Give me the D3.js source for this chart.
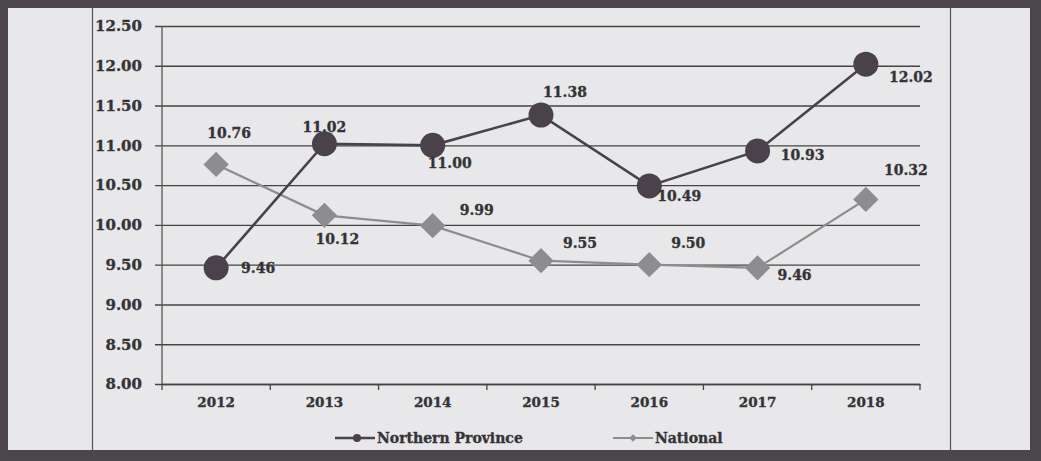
<!DOCTYPE html>
<html lang="en">
<head>
<meta charset="UTF-8">
<title>Northern Province vs National</title>
<script src="https://d3js.org/d3.v7.min.js"></script>
<style>
    body { margin: 0; background: #e8e8ea; overflow: hidden; }
    text { font-family: "DejaVu Serif", serif; font-weight: bold; fill: #343336; stroke: #343336; stroke-width: 0.35px; }
</style>
</head>
<body>
<div id="chart"></div>
<script>
// data
const years = ["2012", "2013", "2014", "2015", "2016", "2017", "2018"];
const northern = [9.46, 11.02, 11.00, 11.38, 10.49, 10.93, 12.02];
const national = [10.76, 10.12, 9.99, 9.55, 9.50, 9.46, 10.32];
const yTicks = [8, 8.5, 9, 9.5, 10, 10.5, 11, 11.5, 12, 12.5];

// where each value label sits relative to its point [dx, dy]
const northernLabelPos = [[42, 0], [0, -17], [17, 18], [24, -23], [30, 10], [45, 4], [45, 13]];
const nationalLabelPos = [[13, -31], [13, 24], [44, -16], [39, -18], [39, -22], [37, 7], [40, -29]];

const W = 1041, H = 461;
const svg = d3.select("#chart").append("svg")
    .attr("width", W).attr("height", H);

svg.append("rect").attr("width", W).attr("height", H).attr("fill", "#e8e8ea");

// scanned frame
const frame = "#4a4649";
svg.append("rect").attr("x", 0).attr("y", 0).attr("width", W).attr("height", 8).attr("fill", frame);
svg.append("rect").attr("x", 0).attr("y", 450).attr("width", W).attr("height", 11).attr("fill", frame);
svg.append("rect").attr("x", 0).attr("y", 0).attr("width", 8).attr("height", H).attr("fill", frame);
svg.append("rect").attr("x", 1030).attr("y", 0).attr("width", 11).attr("height", H).attr("fill", frame);
[92.5, 950.5].forEach(xv => {
    svg.append("line").attr("x1", xv).attr("x2", xv).attr("y1", 8).attr("y2", 450)
        .attr("stroke", "#555").attr("stroke-width", 1.2);
});

const x = d3.scaleBand().domain(years).range([162, 920]).padding(0);
const y = d3.scaleLinear().domain([8, 12.5]).range([384, 26]);
const cx = d => x(d) + x.bandwidth() / 2;

// gridlines + y labels
const yAxis = svg.append("g")
    .attr("transform", "translate(162,0)")
    .call(d3.axisLeft(y).tickValues(yTicks).tickFormat(d3.format(".2f"))
        .tickSize(-758).tickSizeOuter(0).tickPadding(20));
yAxis.select(".domain").remove();
yAxis.selectAll(".tick line").attr("x1", -7).attr("stroke", "#444").attr("stroke-width", 1.4);
yAxis.selectAll(".tick text").attr("font-size", 15).attr("fill", "#343336")
    .attr("font-family", "DejaVu Serif").attr("font-weight", "bold");
svg.append("line").attr("x1", 162).attr("x2", 162).attr("y1", 26).attr("y2", 384)
    .attr("stroke", "#555").attr("stroke-width", 1.3);

// x axis
const xAxis = svg.append("g")
    .attr("transform", "translate(0,384)")
    .call(d3.axisBottom(x).tickSize(0).tickPadding(13));
xAxis.select(".domain").attr("stroke", "#444").attr("stroke-width", 1.4);
xAxis.selectAll(".tick text").attr("font-size", 13.5).attr("fill", "#343336")
    .attr("font-family", "DejaVu Serif").attr("font-weight", "bold");
svg.append("g").selectAll("line")
    .data(years.map(d => x(d)).concat([920]))
    .enter().append("line")
    .attr("x1", d => d).attr("x2", d => d).attr("y1", 384).attr("y2", 390)
    .attr("stroke", "#444").attr("stroke-width", 1.3);

const npColor = "#4a424a", natColor = "#8d8d8f";
const line = d3.line().x((d, i) => cx(years[i])).y(d => y(d));

// National
svg.append("path").datum(national).attr("d", line)
    .attr("fill", "none").attr("stroke", natColor).attr("stroke-width", 2.2);
const diamond = d3.symbol().type(d3.symbolSquare).size(320);
svg.append("g").selectAll("path").data(national).enter().append("path")
    .attr("d", diamond)
    .attr("transform", (d, i) => `translate(${cx(years[i])},${y(d)}) rotate(45)`)
    .attr("fill", natColor);

// Northern Province
svg.append("path").datum(northern).attr("d", line)
    .attr("fill", "none").attr("stroke", npColor).attr("stroke-width", 2.6);
svg.append("g").selectAll("circle").data(northern).enter().append("circle")
    .attr("cx", (d, i) => cx(years[i])).attr("cy", d => y(d)).attr("r", 12.5)
    .attr("fill", npColor);

// value labels
function labels(vals, pos) {
    svg.append("g").selectAll("text").data(vals).enter().append("text")
        .attr("x", (d, i) => cx(years[i]) + pos[i][0])
        .attr("y", (d, i) => y(d) + pos[i][1])
        .attr("text-anchor", "middle").attr("dominant-baseline", "central")
        .attr("font-size", 14)
        .text(d => d.toFixed(2));
}
labels(northern, northernLabelPos);
labels(national, nationalLabelPos);

// legend
const legend = svg.append("g").attr("transform", "translate(0,438)");
const items = [
    { name: "Northern Province", color: npColor, x: 335, w: 2.6, mark: "circle" },
    { name: "National", color: natColor, x: 613, w: 2, mark: "diamond" }
];
items.forEach(it => {
    legend.append("line").attr("x1", it.x).attr("x2", it.x + 40).attr("y1", 0).attr("y2", 0)
        .attr("stroke", it.color).attr("stroke-width", it.w);
    if (it.mark === "circle") {
        legend.append("circle").attr("cx", it.x + 22).attr("cy", 0).attr("r", 4).attr("fill", it.color);
    } else {
        legend.append("path").attr("d", d3.symbol().type(d3.symbolSquare).size(30))
            .attr("transform", `translate(${it.x + 20},0) rotate(45)`).attr("fill", it.color);
    }
    legend.append("text").attr("x", it.x + 42).attr("y", 0)
        .attr("dominant-baseline", "central").attr("font-size", 14)
        .text(it.name);
});
</script>
</body>
</html>
